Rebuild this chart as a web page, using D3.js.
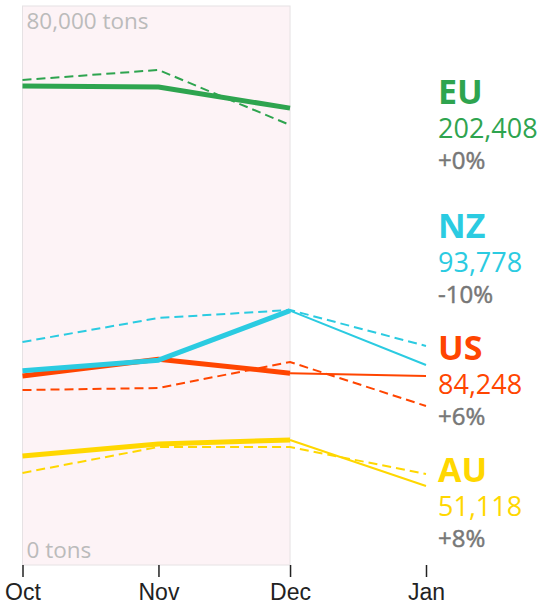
<!DOCTYPE html>
<html>
<head>
<meta charset="utf-8">
<script src="https://cdn.jsdelivr.net/npm/d3@7/dist/d3.min.js"></script>
<style>
  body { margin: 0; background: #fff; }
  svg { display: block; font-family: 'Open Sans', sans-serif; }
  .x-axis text { font-family: 'Liberation Sans', Arial, sans-serif; font-size: 23px; fill: #222; }
  .x-axis line { stroke: #222; stroke-width: 1.5; }
  .x-axis .domain { display: none; }
</style>
</head>
<body>
<div id="chart"></div>
<script>
// data
const months = ['2017-10-01', '2017-11-01', '2017-12-01', '2018-01-01'];
const regions = ['EU', 'NZ', 'US', 'AU'];
const colors = ['#2ea44f', '#2bcbe1', '#ff4500', '#ffd700'];
// this season Oct-Dec (thick) and Jan estimate (thin)
const current = [
  [68580, 68420, 65408],
  [27900, 29400, 36478],
  [27150, 29550, 27548],
  [15700, 17418, 18000]
];
const janEstimate = [null, 28714, 27143, 11429];
// last season Oct-Jan (dashed)
const lastYear = [
  [69430, 70860, 63000],
  [32000, 35430, 36570, 31430],
  [25140, 25430, 29140, 22860],
  [13300, 17000, 17000, 13140]
];
const totals = [202408, 93778, 84248, 51118];
const changes = ['+0%', '-10%', '+6%', '+8%'];
const yTicks = [80000, 0];

const width = 544;
const height = 606;
const marginTop = 6;
const marginLeft = 22.5;
const plotBottom = 566;
const plotRight = 426;

const parse = d3.timeParse('%Y-%m-%d');
const dates = months.map(parse);

const scaleX = d3.scaleTime()
  .domain([dates[0], dates[3]])
  .range([marginLeft, plotRight]);
const scaleY = d3.scaleLinear()
  .domain([0, 80000])
  .range([plotBottom, marginTop]);

const $svg = d3.select('#chart').append('svg')
  .attr('width', width)
  .attr('height', height);

// shaded season box
$svg.append('rect')
  .attr('x', scaleX(dates[0]))
  .attr('y', scaleY(80000))
  .attr('width', scaleX(dates[2]) - scaleX(dates[0]))
  .attr('height', scaleY(0) - scaleY(80000) - 1)
  .attr('fill', '#fdf3f6')
  .attr('stroke', '#e6e2e4')
  .attr('stroke-width', 1);

// y labels
$svg.selectAll('.y-label')
  .data(yTicks)
  .enter()
  .append('text')
  .attr('class', 'y-label')
  .attr('x', scaleX(dates[0]) + 4)
  .attr('y', d => d ? scaleY(d) + 23 : scaleY(d) - 8)
  .attr('fill', '#bbb')
  .style('font-size', '22.5px')
  .text(d => `${d3.format(',')(d)} tons`);

// x axis
$svg.append('g')
  .attr('class', 'x-axis')
  .attr('transform', `translate(0, ${plotBottom - 1})`)
  .call(d3.axisBottom(scaleX)
    .tickValues(dates)
    .tickSize(12)
    .tickPadding(7)
    .tickFormat(d3.timeFormat('%b')));

const line = d3.line()
  .x(d => scaleX(d.date))
  .y(d => scaleY(d.value));

const order = [3, 2, 1, 0];

// dashed last season
order.forEach(i => {
  const pts = lastYear[i].map((v, j) => ({ date: dates[j], value: v }));
  $svg.append('path')
    .attr('d', line(pts))
    .attr('fill', 'none')
    .attr('stroke', colors[i])
    .attr('stroke-width', 2)
    .attr('stroke-dasharray', '9,5');
});

// thin estimate Dec -> Jan
order.forEach(i => {
  if (janEstimate[i] == null) return;
  const pts = [
    { date: dates[2], value: current[i][2] },
    { date: dates[3], value: janEstimate[i] }
  ];
  $svg.append('path')
    .attr('d', line(pts))
    .attr('fill', 'none')
    .attr('stroke', colors[i])
    .attr('stroke-width', 2);
});

// thick current season
order.forEach(i => {
  const pts = current[i].map((v, j) => ({ date: dates[j], value: v }));
  $svg.append('path')
    .attr('d', line(pts))
    .attr('fill', 'none')
    .attr('stroke', colors[i])
    .attr('stroke-width', 5)
    .attr('stroke-linejoin', 'round');
});

// labels, dodged from the bottom up
const gap = 122;
const anchors = regions.map((r, i) => {
  const last = janEstimate[i] != null ? janEstimate[i] : current[i][2];
  return { i, y: scaleY(last) - 4 };
}).sort((a, b) => b.y - a.y);
let prev = Infinity;
anchors.forEach(a => {
  a.pos = Math.min(a.y, prev - gap);
  prev = a.pos;
});

const $labels = $svg.selectAll('.label')
  .data(anchors)
  .enter()
  .append('g')
  .attr('class', 'label')
  .attr('transform', d => `translate(438, ${d.pos})`);

$labels.append('text')
  .attr('fill', d => colors[d.i])
  .style('font-size', '34px')
  .style('font-weight', 700)
  .text(d => regions[d.i]);

$labels.append('text')
  .attr('y', 34)
  .attr('fill', d => colors[d.i])
  .style('font-size', '27px')
  .text(d => d3.format(',')(totals[d.i]));

$labels.append('text')
  .attr('y', 65)
  .attr('fill', '#777')
  .attr('stroke', '#777')
  .attr('stroke-width', 0.5)
  .style('font-size', '24px')
  .text(d => changes[d.i]);
</script>
</body>
</html>
